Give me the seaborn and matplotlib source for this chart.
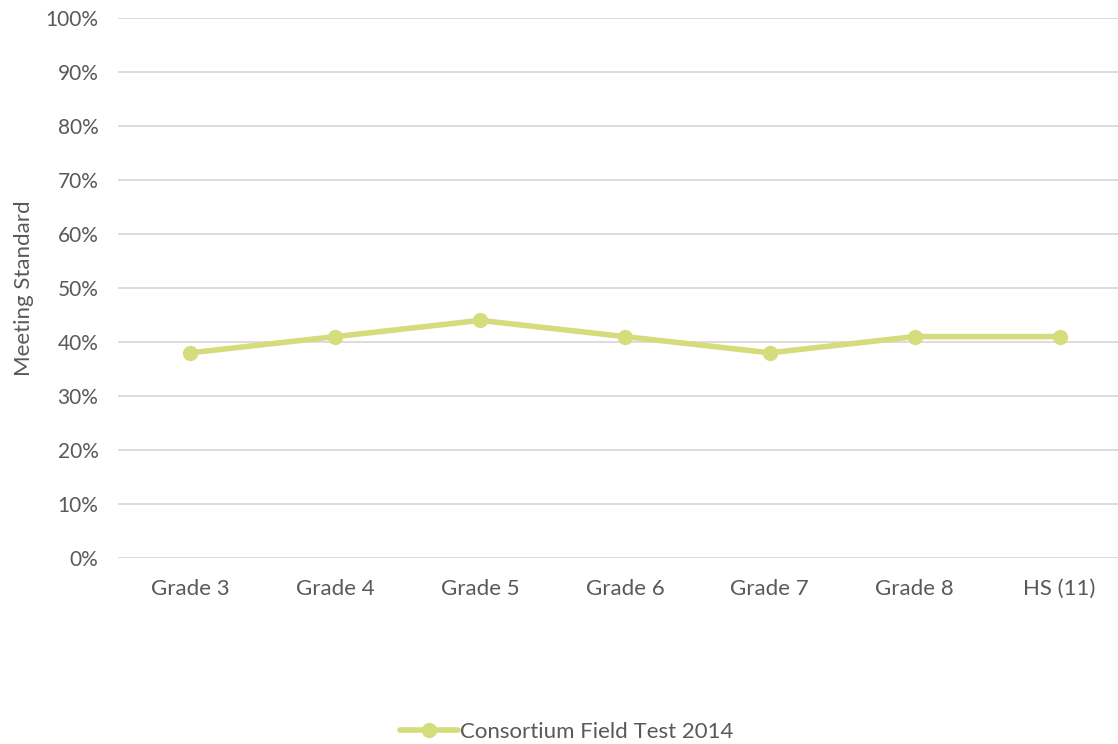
import numpy as np
import pandas as pd
import seaborn as sns
from matplotlib import pyplot as plt
from matplotlib.ticker import PercentFormatter

grades = ['Grade 3', 'Grade 4', 'Grade 5', 'Grade 6', 'Grade 7', 'Grade 8', 'HS (11)']
meeting_standard = [38, 41, 44, 41, 38, 41, 41]
series_name = 'Consortium Field Test 2014'

df = pd.DataFrame({'Grade': grades, 'Meeting Standard': meeting_standard, 'Series': series_name})

sns.set_style('white')
plt.rcParams['font.family'] = ['Lato', 'DejaVu Sans']
text_color = '#595959'
line_color = '#d4dc7c'

fig = plt.figure(figsize=(11.18, 7.44), dpi=100)
ax = fig.add_axes([0.1055, 0.25, 0.907, 0.7258])

sns.lineplot(data=df, x='Grade', y='Meeting Standard', hue='Series', palette=[line_color],
             marker='o', markersize=11, markeredgewidth=0, linewidth=4, sort=False, ax=ax)

ax.set_xlim(-0.5, len(grades) - 0.5)
ax.set_ylim(0, 100)
ax.set_yticks(np.arange(0, 101, 10))
ax.yaxis.set_major_formatter(PercentFormatter(decimals=0))
ax.grid(axis='y', color='#d9d9d9', linewidth=1.3)
ax.set_axisbelow(True)
for s in ax.spines.values():
    s.set_visible(False)
ax.tick_params(axis='x', length=0, labelsize=16, colors=text_color, pad=15)
ax.tick_params(axis='y', length=0, labelsize=15, colors=text_color, pad=14)
ax.set_xlabel('')
ax.set_ylabel('Meeting Standard', fontsize=16, color=text_color, labelpad=8)

ax.legend(loc='center', bbox_to_anchor=(567 / 1118, 12 / 744), bbox_transform=fig.transFigure,
          frameon=False, fontsize=16, labelcolor=text_color, handlelength=2.6, handletextpad=0.1)

fig.savefig('out.png', dpi=100)
